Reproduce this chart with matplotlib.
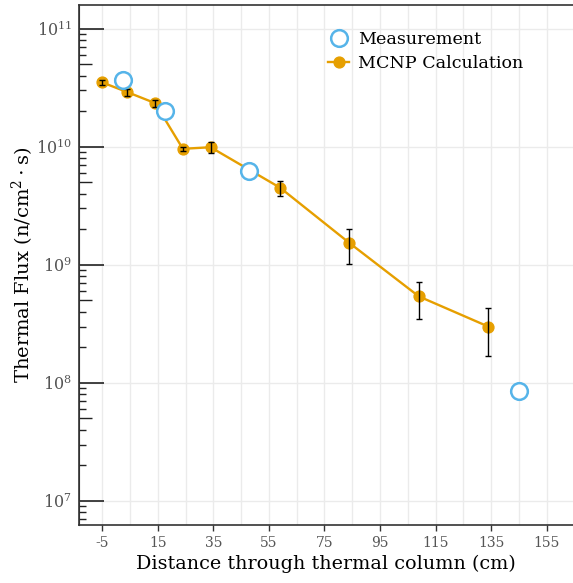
import matplotlib
matplotlib.use("Agg")
import matplotlib.pyplot as plt
from matplotlib.ticker import FixedLocator, NullFormatter, FuncFormatter
import numpy as np

# Data
mcnp_x = [-5, 4, 14, 24, 34, 59, 84, 109, 134]
mcnp_y = [3.50e10, 2.90e10, 2.34e10, 9.6e9, 9.9e9, 4.5e9, 1.53e9, 5.4e8, 3.0e8]
mcnp_lo = [3.33e10, 2.70e10, 2.15e10, 9.25e9, 8.85e9, 3.85e9, 1.02e9, 3.45e8, 1.70e8]
mcnp_hi = [3.66e10, 3.08e10, 2.51e10, 9.94e9, 1.09e10, 5.15e9, 2.02e9, 7.15e8, 4.27e8]
meas_x = [2.5, 17.5, 48, 145]
meas_y = [3.69e10, 1.99e10, 6.2e9, 8.5e7]
xticks = [-5, 15, 35, 55, 75, 95, 115, 135, 155]
yticks = [1e7, 1e8, 1e9, 1e10, 1e11]

orange = "#E69F00"
blue = "#56B4E9"
plt.rcParams["font.family"] = ["DejaVu Serif"]
plt.rcParams["mathtext.fontset"] = "dejavuserif"
plt.rcParams["axes.unicode_minus"] = False

fig = plt.figure(figsize=(5.73, 5.83), dpi=100)
ax = fig.add_axes([79/573, 58/583, 1 - 79/573, (525-5)/583])
ax.set_yscale("log")
ax.set_xlim(-13.4, 164.5)
ax.set_ylim(10**6.797, 10**11.2)

yerr = [np.array(mcnp_y) - np.array(mcnp_lo), np.array(mcnp_hi) - np.array(mcnp_y)]
ax.plot(mcnp_x, mcnp_y, color=orange, lw=1.7, marker="o", ms=7.8, zorder=3,
        label="MCNP Calculation")
ax.errorbar(mcnp_x, mcnp_y, yerr=yerr, fmt="none", ecolor="black", elinewidth=1,
            capsize=2.5, capthick=1, zorder=4)
ax.plot(meas_x, meas_y, linestyle="none", marker="o", ms=12, mfc="white", mec=blue,
        mew=1.8, zorder=5, label="Measurement")

# grid
ax.xaxis.set_major_locator(FixedLocator(xticks))
ax.xaxis.set_minor_locator(FixedLocator([x + 10 for x in xticks]))
ax.grid(True, which="major", axis="both", color="#ebebeb", lw=1)
ax.grid(True, which="minor", axis="x", color="#ebebeb", lw=1)
ax.set_axisbelow(True)

ax.yaxis.set_major_locator(FixedLocator(yticks))
ax.yaxis.set_major_formatter(FuncFormatter(lambda v, p: r"$10^{%d}$" % round(np.log10(v))))
minors = [m * 10.0**e for e in range(6, 12) for m in [2, 3, 4, 6, 7, 8, 9]]
ax.yaxis.set_minor_locator(FixedLocator(minors))
ax.yaxis.set_minor_formatter(NullFormatter())
ax.tick_params(axis="y", which="major", direction="in", length=18, width=1.2,
               color="#222222", labelsize=11.5, labelcolor="#555555", pad=5)
ax.tick_params(axis="y", which="minor", direction="in", length=5, width=1, color="#222222")
ax.tick_params(axis="x", which="major", direction="out", length=4, width=1,
               color="#333333", labelsize=10, labelcolor="#555555", pad=4)
ax.tick_params(axis="x", which="minor", length=0)

sec = ax.secondary_yaxis("left")
sec.set_yscale("log")
sec.yaxis.set_major_locator(FixedLocator([5 * 10.0**e for e in range(6, 12)]))
sec.yaxis.set_major_formatter(NullFormatter())
sec.yaxis.set_minor_locator(FixedLocator([]))
sec.tick_params(axis="y", which="major", direction="in", length=9, width=1, color="#222222")
sec.spines["left"].set_color("#333333")

for s in ["left", "bottom", "top"]:
    ax.spines[s].set_color("#333333")
    ax.spines[s].set_linewidth(1.2)
ax.spines["right"].set_visible(False)

ax.set_xlabel("Distance through thermal column (cm)", fontsize=13.8, labelpad=3)
ax.set_ylabel(r"Thermal Flux (n/cm$^2\cdot$s)", fontsize=14, labelpad=0)

h, l = ax.get_legend_handles_labels()
leg = ax.legend(h[::-1], l[::-1], loc="upper left", bbox_to_anchor=(0.487, 0.967),
                frameon=False, fontsize=12.6, handlelength=1.2, handletextpad=0.5,
                labelspacing=0.4, borderpad=0)

fig.savefig("out.png", dpi=100)
